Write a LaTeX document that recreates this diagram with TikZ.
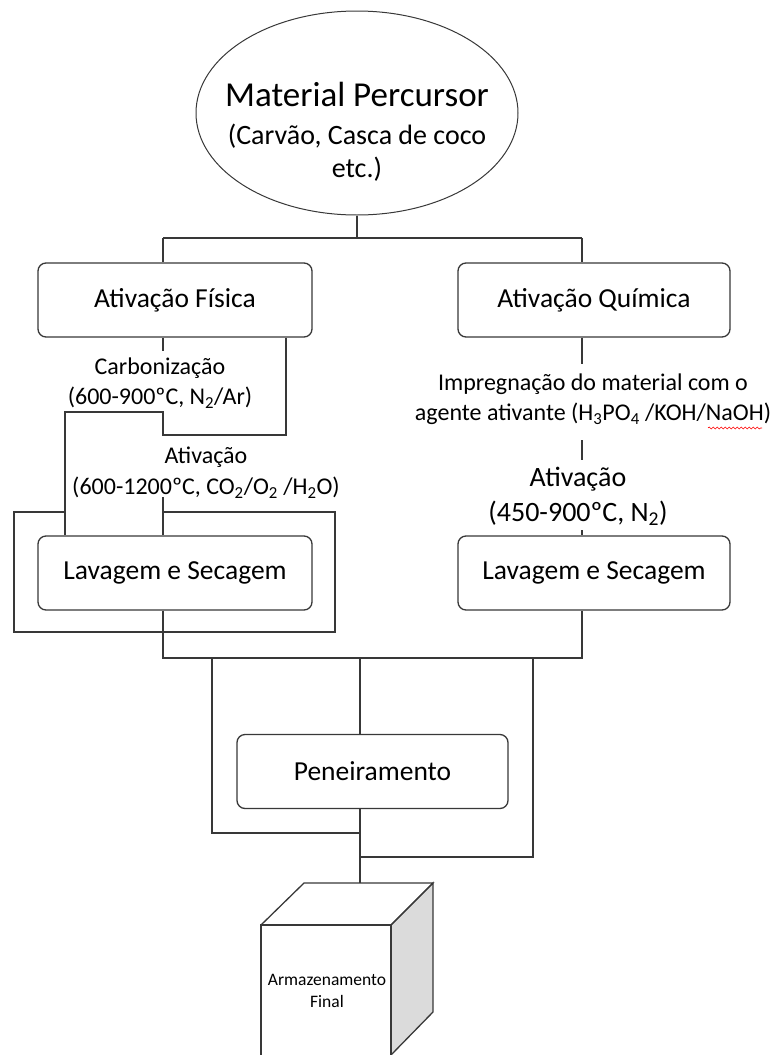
\documentclass[tikz,border=0pt]{standalone}
\usepackage{fontspec}
\setmainfont{Carlito}
\usetikzlibrary{shapes.geometric,decorations.pathmorphing}
\begin{document}
\begin{tikzpicture}[x=1pt,y=-1pt,line width=1.3pt,color=black!78,
    etapa/.style={draw,rounded corners=8pt,minimum width=274pt,minimum height=74pt,
        text=black,font=\fontsize{27.5}{30}\selectfont},
    rotulo/.style={align=center,inner sep=0pt,text=black,font=\fontsize{24}{30}\selectfont}]
    \useasboundingbox (0,0) rectangle (771,1055);

    \node[draw,ellipse,line width=1pt,minimum width=322pt,minimum height=204pt] (mat) at (357,113) {};
    \node[align=center,text=black,inner sep=0pt,font=\fontsize{28}{33}\selectfont,yshift=-19pt]
        (matt) at (mat.center)
        {{\fontsize{35}{40}\selectfont Material Percursor}\\[5pt]
         (Carvão, Casca de coco\\ etc.)};
    \node[etapa] (fis) at (175,300) {Ativação Física};
    \node[etapa,minimum width=272pt] (qui) at (594,300) {Ativação Química};

    \coordinate (jmat) at (357,238);
    \coordinate (jf) at (163,238);
    \coordinate (jq) at (582,238);
    \draw (mat.south) -- (jmat);
    \draw (jf) -- (jq);
    \draw (jf) -- (jf |- fis.north);
    \draw (jq) -- (jq |- qui.north);

    % fisica
    \node[rotulo] (carb) at (160,383) {Carbonização\\(600-900ºC, N\textsubscript{2}/Ar)};
    \node[rotulo,font=\fontsize{24}{31}\selectfont] (atf) at (206,473)
        {Ativação\\(600-1200ºC, CO\textsubscript{2}/O\textsubscript{2} /H\textsubscript{2}O)};
    \node[etapa] (lavf) at (175,573) {Lavagem e Secagem};

    \coordinate (c1) at (286,435);
    \coordinate (c2) at (163,412);
    \coordinate (c3) at (65,412);
    \coordinate (c4) at (163,497);
    \coordinate (o1) at (14,512);
    \coordinate (o2) at (335,632);
    \draw (fis.south -| c2) -- ++(0,13);
    \draw (fis.south -| c1) -- (c1) -- (c1 -| c2) -- (c2) -- (c3) -- (c3 |- lavf.north);
    \draw (c4) -- (c4 |- lavf.north);
    \draw (c3 |- o1) -- (o1) -- (o1 |- o2) -- (o2) -- (o2 |- o1) -- (c2 |- o1);

    % quimica
    \node[rotulo] (impr) at (593,399)
        {Impregnação do material com o\\agente ativante (H\textsubscript{3}PO\textsubscript{4} /KOH/NaOH)};
    \node[rotulo,font=\fontsize{28}{35}\selectfont] (atq) at (578,496)
        {Ativação\\(450-900ºC, N\textsubscript{2})};
    \node[etapa,minimum width=272pt] (lavq) at (594,573) {Lavagem e Secagem};

    \coordinate (q1) at (582,440);
    \coordinate (q2) at (582,530);
    \draw (qui.south -| jq) -- ++(0,26);
    \draw (q1) -- ++(0,20);
    \draw (q2) -- (q2 |- lavq.north);
    \draw[red,line width=0.6pt,decorate,decoration={snake,amplitude=1pt,segment length=4pt}]
        (708,428) -- (762,428);

    % juncao
    \coordinate (bl) at (163,658);
    \coordinate (br) at (582,658);
    \draw (lavf.south -| bl) -- (bl) -- (br) -- (lavq.south -| br);

    \node[etapa,minimum width=271pt] (pen) at (372.5,771.5) {Peneiramento};
    \coordinate (b1) at (212,658);
    \coordinate (b2) at (360,658);
    \coordinate (b3) at (533,658);
    \coordinate (k1) at (212,833);
    \coordinate (k2) at (533,857);
    \draw (b2) -- (pen.north -| b2);
    \draw (b1) -- (k1) -- (k1 -| b2);
    \draw (b3) -- (k2) -- (k2 -| b2);

    % armazenamento
    \coordinate (fa) at (261,925);
    \coordinate (fb) at (391,925);
    \coordinate (fc) at (391,1055);
    \coordinate (fd) at (261,1055);
    \coordinate (ta) at (304,883);
    \coordinate (tb) at (433,883);
    \coordinate (rb) at (433,1012);
    \filldraw[fill=gray!28] (fb) -- (tb) -- (rb) -- (fc) -- cycle;
    \draw (fd) -- (fa) -- (fb) -- (fc);
    \draw (fa) -- (ta) -- (tb) -- (fb);
    \draw (pen.south -| b2) -- (b2 |- ta);
    \node[align=center,inner sep=0pt,text=black,font=\fontsize{17.5}{22}\selectfont] (arm)
        at (327,991) {Armazenamento\\Final};
\end{tikzpicture}
\end{document}
